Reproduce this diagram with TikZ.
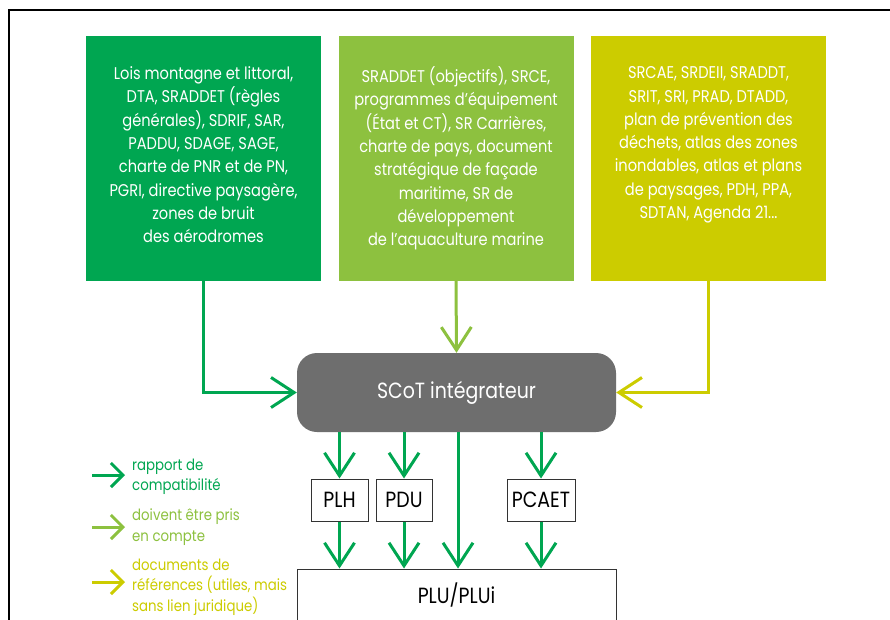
\documentclass[tikz,border=0pt]{standalone}
\usepackage{fontspec}
\setmainfont{Poppins}[FakeStretch=0.86]
\usetikzlibrary{arrows.meta,calc}
\definecolor{dgreen}{HTML}{00A651}
\definecolor{lgreen}{HTML}{8DC13F}
\definecolor{ygreen}{HTML}{CCCC00}
\definecolor{scotgray}{HTML}{6E6E6E}
\tikzset{
  topbox/.style={rectangle, minimum width=235pt, minimum height=244pt, inner sep=0pt},
  boxtext/.style={anchor=north, align=center, text=white, font=\fontsize{17}{23.3}\selectfont, inner sep=0pt},
  smallbox/.style={draw=black!80, line width=1pt, fill=white, minimum height=42pt, inner sep=0pt, font=\fontsize{22}{24}\selectfont},
  conn/.style={line width=3pt, -{Straight Barb[length=23pt,width=30pt,line width=3pt]}},
  legarrow/.style={line width=3pt, -{Straight Barb[length=12pt,width=24pt,line width=3pt]}},
  legtext/.style={anchor=west, align=left, inner sep=0pt, font=\fontsize{15.5}{20.3}\selectfont}
}
\begin{document}
\begin{tikzpicture}[x=1pt,y=-1pt]
\useasboundingbox (0,0) rectangle (890,620);
\fill[white] (0,0) rectangle (890,620);
\draw[line width=2pt] (9,621) -- (9,10) -- (891,10);

% top boxes
\node[topbox, fill=dgreen] (b1) at (203.5,158.5) {};
\node[topbox, fill=lgreen] (b2) at (456,158.5) {};
\node[topbox, fill=ygreen] (b3) at (708.5,158.5) {};
\node[boxtext] (t1) at (203.5,66.5) {Lois montagne et littoral,\\DTA, SRADDET (règles\\générales), SDRIF, SAR,\\PADDU, SDAGE, SAGE,\\charte de PNR et de PN,\\PGRI, directive paysagère,\\zones de bruit\\des aérodromes};
\node[boxtext] (t2) at (456,66.5) {SRADDET (objectifs), SRCE,\\programmes d’équipement\\(État et CT), SR Carrières,\\charte de pays, document\\stratégique de façade\\maritime, SR de\\développement\\de l’aquaculture marine};
\node[boxtext] (t3) at (708.5,66.5) {SRCAE, SRDEII, SRADDT,\\SRIT, SRI, PRAD, DTADD,\\plan de prévention des\\déchets, atlas des zones\\inondables, atlas et plans\\de paysages, PDH, PPA,\\SDTAN, Agenda 21...};

% SCoT
\node[rectangle, rounded corners=20pt, fill=scotgray, minimum width=319pt, minimum height=79pt, text=white, font=\fontsize{22}{24}\selectfont] (scot) at (456.5,392.5) {SCoT intégrateur};

% small boxes
\node[smallbox, minimum width=57pt] (plh) at (339.5,500) {PLH};
\node[smallbox, minimum width=56pt] (pdu) at (404,500) {PDU};
\node[smallbox, minimum width=68pt] (pcaet) at (541,500) {PCAET};
\node[smallbox, minimum width=319pt, minimum height=52pt] (plu) at (456.5,595) {PLU/PLUi};
\coordinate (mid) at (458,0);

% connectors from top boxes
\draw[conn, dgreen] (b1.south) |- (scot.west);
\draw[conn, lgreen] (b2.south) -- (scot.north);
\draw[conn, ygreen] (b3.south) |- (scot.east);

% SCoT to documents
\draw[conn, dgreen] (scot.south -| plh) -- (plh.north);
\draw[conn, dgreen] (scot.south -| pdu) -- (pdu.north);
\draw[conn, dgreen] (scot.south -| pcaet) -- (pcaet.north);
\draw[conn, dgreen] (scot.south -| mid) -- (plu.north -| mid);
\draw[conn, dgreen] (plh.south) -- (plu.north -| plh);
\draw[conn, dgreen] (pdu.south) -- (plu.north -| pdu);
\draw[conn, dgreen] (pcaet.south) -- (plu.north -| pcaet);

% legend
\coordinate (la1) at (92,475); \coordinate (lb1) at (125,475);
\coordinate (la2) at (92,527); \coordinate (lb2) at (125,527);
\coordinate (la3) at (92,582); \coordinate (lb3) at (125,582);
\draw[legarrow, dgreen] (la1) -- (lb1);
\draw[legarrow, lgreen] (la2) -- (lb2);
\draw[legarrow, ygreen] (la3) -- (lb3);
\node[legtext, text=dgreen] (lt1) at (132,477) {rapport de\\compatibilité};
\node[legtext, text=lgreen] (lt2) at (132,527) {doivent être pris\\en compte};
\node[legtext, text=ygreen] (lt3) at (132,587) {documents de\\références (utiles, mais\\sans lien juridique)};
\end{tikzpicture}
\end{document}
